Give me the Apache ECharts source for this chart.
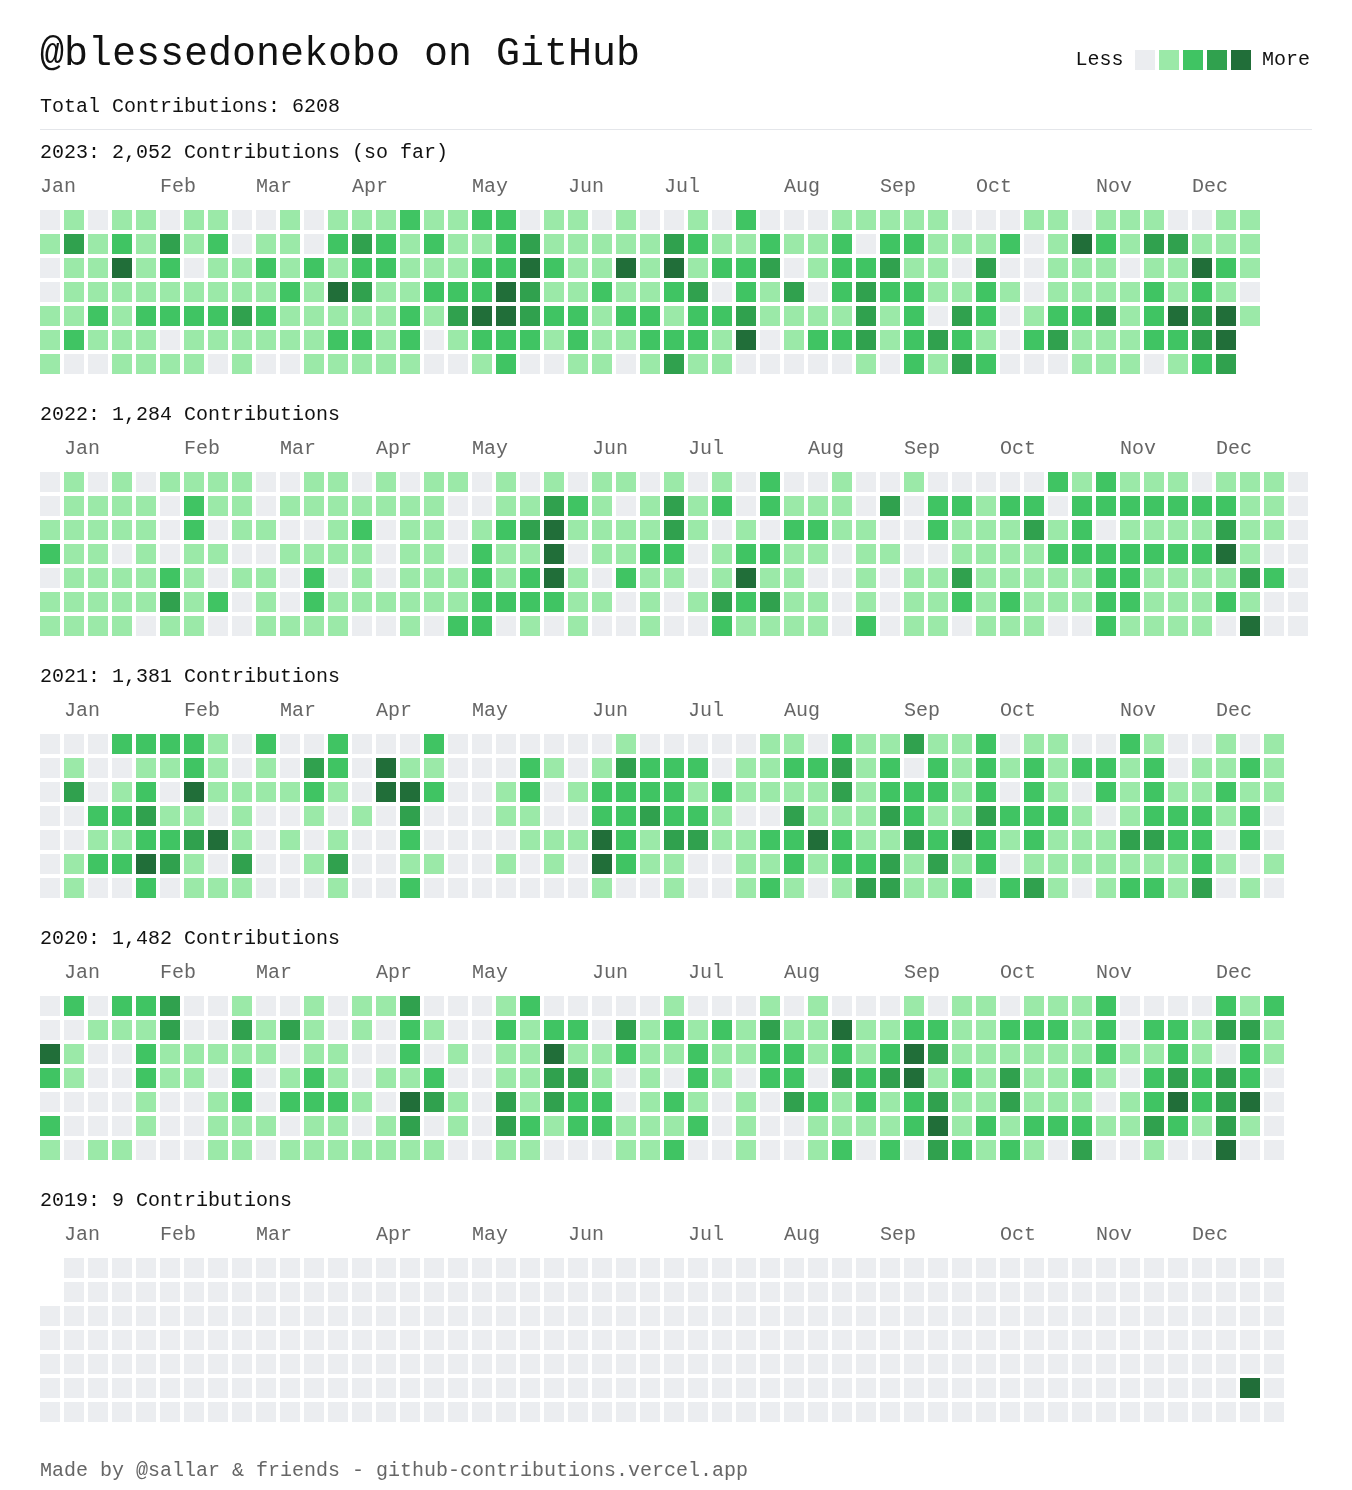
<!DOCTYPE html>
<html>
<head>
<meta charset="utf-8">
<script src="https://cdn.jsdelivr.net/npm/echarts@6/dist/echarts.min.js"></script>
<style>
html,body{margin:0;padding:0;background:#fff;}
#chart{width:1352px;height:1490px;}
</style>
</head>
<body>
<div id="chart"></div>
<script>
// ---------- DATA ----------
const userName = '@blessedonekobo';
const totalContributions = 6208;
const years = [2023, 2022, 2021, 2020, 2019];
const yearTotals = ['2,052', '1,284', '1,381', '1,482', '9'];
const yearSuffix = [' (so far)', '', '', '', ''];
const monthNames = ['Jan','Feb','Mar','Apr','May','Jun','Jul','Aug','Sep','Oct','Nov','Dec'];
// week-column index where each month label starts
const monthCols2023 = [0,5,9,13,18,22,26,31,35,39,44,48];
const monthCols2022 = [1,6,10,14,18,23,27,32,36,40,45,49];
const monthCols2021 = [1,6,10,14,18,23,27,31,36,40,45,49];
const monthCols2020 = [1,5,9,14,18,23,27,31,36,40,44,49];
const monthCols2019 = [1,5,9,14,18,22,27,31,35,40,44,48];
// contribution levels: one string per weekday row (Sun..Sat), one char per week column; '.' = no day
const levels2023 = [
  "010110110010111211220110100" + "102000111110001101110011",
  "131213120110232121123111113" + "211211202211120142133111",
  "011412011212122111224211414" + "122301223110300111011421",
  "011111111121431122243112112" + "302130232211210111121210",
  "112122223211111213443221221" + "223111131203201223124341",
  "121110111111221201222121122" + "21401223123210231112234.",
  "100111101001111100120011013" + "11000001021320001110123."
];
const levels2022 = [
  "010101111001101011010101101" + "01020010010000021211101110",
  "011110211011111110011321013" + "12021110302212202222222110",
  "111110201100120110123411113" + "10102211002111312011113110",
  "211010110011110110211401122" + "01221101100111122222224100",
  "011112101102010111212410211" + "01411001011311111221111320",
  "111113120102111111222211010" + "13231101011212111221112100",
  "111101100111100102201010010" + "02111102011011100211110400"
];
const levels2021 = [
  "000222210200200020000000100" + "0001102113112011002100101",
  "010011210103204110002101322" + "2011223120212121221201121",
  "030120411112104420012012222" + "1211113122212021021211211",
  "002231101001010300011002232" + "2100311132113222101222120",
  "001122341010100200001114213" + "3112242113242121113322020",
  "012243103001300110010104211" + "0011212231312011111112101",
  "010020111000100200000001001" + "0012101331120231012213010"
];
const levels2020 = [
  "020223001001011300012000001" + "0001010001011011120000212",
  "001113003131010210021220312" + "1213114112211222120221331",
  "410021111101100201011411211" + "2112212124311111121121021",
  "210021102012101120011331010" + "2102203234121311210232320",
  "000010012022210431031322012" + "1010321212311311101242340",
  "200010011101101301032122111" + "2010011112412122211321310",
  "101100011011111110011000112" + "0010012020321210300100400"
];
const levels2019 = [
  ".0000000000" + "0000000000" + "0000000000" + "0000000000" + "0000000000" + "0",
  ".0000000000" + "0000000000" + "0000000000" + "0000000000" + "0000000000" + "0",
  "0000000000" + "0000000000" + "0000000000" + "0000000000" + "0000000000" + "00",
  "0000000000" + "0000000000" + "0000000000" + "0000000000" + "0000000000" + "00",
  "0000000000" + "0000000000" + "0000000000" + "0000000000" + "0000000000" + "00",
  "0000000000" + "0000000000" + "0000000000" + "0000000000" + "0000000000" + "40",
  "0000000000" + "0000000000" + "0000000000" + "0000000000" + "0000000000" + "00"
];
const levelColors = ['#ebedf0', '#9be9a8', '#40c463', '#30a14e', '#216e39'];

// ---------- LAYOUT ----------
const FONT = "'Liberation Mono', 'DejaVu Sans Mono', monospace";
const grids = [levels2023, levels2022, levels2021, levels2020, levels2019];
const monthCols = [monthCols2023, monthCols2022, monthCols2021, monthCols2020, monthCols2019];
const COLS = 53, ROWS = 7, PITCH = 24, GAP = 4;
const LEFT = 40, FIRST_TOP = 210, YEAR_STEP = 262;

function toCells(rows) {
  const out = [];
  rows.forEach((s, r) => {
    for (let c = 0; c < s.length; c++) {
      const ch = s.charAt(c);
      if (ch !== '.') out.push([c, r, Number(ch)]);
    }
  });
  return out;
}

const chart = echarts.init(document.getElementById('chart'), null, {renderer: 'canvas'});

const titles = [
  {text: userName + ' on GitHub', left: LEFT, top: 34, padding: 0,
   textStyle: {fontFamily: FONT, fontSize: 40, fontWeight: 'normal', color: '#111'}},
  {text: 'Total Contributions: ' + totalContributions, left: LEFT, top: 97, padding: 0,
   textStyle: {fontFamily: FONT, fontSize: 20, fontWeight: 'normal', color: '#111'}},
  {text: 'Made by @sallar & friends - github-contributions.vercel.app', left: LEFT, top: 1461, padding: 0,
   textStyle: {fontFamily: FONT, fontSize: 20, fontWeight: 'normal', color: '#666'}}
];
years.forEach((y, i) => {
  titles.push({
    text: y + ': ' + yearTotals[i] + ' Contributions' + yearSuffix[i],
    left: LEFT, top: FIRST_TOP - 67 + i * YEAR_STEP, padding: 0,
    textStyle: {fontFamily: FONT, fontSize: 20, fontWeight: 'normal', color: '#111'}
  });
});

const option = {
  animation: false,
  backgroundColor: '#fff',
  title: titles,
  graphic: [{
    type: 'line', shape: {x1: LEFT, y1: 129.5, x2: LEFT + COLS * PITCH, y2: 129.5},
    style: {stroke: '#e4e6ea', lineWidth: 1}, silent: true
  }],
  visualMap: {
    type: 'piecewise', orient: 'horizontal', right: 42, top: 50, padding: 0,
    itemWidth: 20, itemHeight: 20, itemGap: 4, itemSymbol: 'rect',
    showLabel: false, text: ['{a| }More', 'Less{b| }'],
    textStyle: {fontFamily: FONT, fontSize: 20, color: '#111',
      rich: {a: {width: 2, fontSize: 20}, b: {width: 3, fontSize: 20}}},
    selectedMode: false, hoverLink: false,
    dimension: 2, seriesIndex: years.map((y, i) => i),
    pieces: levelColors.map((c, v) => ({value: v, color: c}))
  },
  grid: years.map((y, i) => ({
    left: LEFT, top: FIRST_TOP + i * YEAR_STEP, width: COLS * PITCH, height: ROWS * PITCH
  })),
  xAxis: years.map((y, i) => ({
    gridIndex: i, type: 'value', min: 0, max: COLS, interval: 1, position: 'top',
    axisLine: {show: false}, axisTick: {show: false}, splitLine: {show: false},
    axisLabel: {
      show: true, align: 'left', margin: 13, color: '#666', fontSize: 20, fontFamily: FONT,
      formatter: function (v) {
        const k = monthCols[i].indexOf(Math.round(v));
        return k >= 0 ? monthNames[k] : '';
      }
    }
  })),
  yAxis: years.map((y, i) => ({
    gridIndex: i, type: 'value', min: 0, max: ROWS, inverse: true, show: false
  })),
  series: years.map((y, i) => ({
    type: 'custom', name: String(y), xAxisIndex: i, yAxisIndex: i,
    data: toCells(grids[i]), encode: {x: 0, y: 1}, silent: true,
    renderItem: function (params, api) {
      const p = api.coord([api.value(0), api.value(1)]);
      const s = api.size([1, 1]);
      return {
        type: 'rect',
        shape: {x: p[0], y: p[1], width: s[0] - GAP, height: s[1] - GAP},
        style: {fill: api.visual('color')}
      };
    }
  }))
};
chart.setOption(option);
</script>
</body>
</html>
